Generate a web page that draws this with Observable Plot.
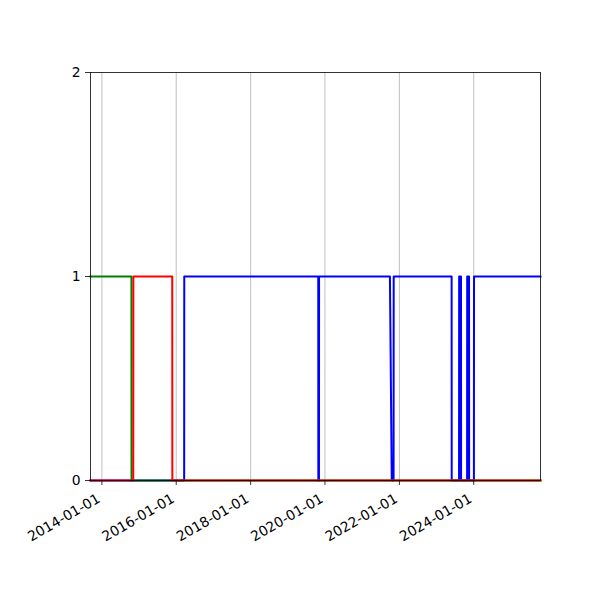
<!DOCTYPE html>
<html>
<head>
<meta charset="utf-8">
<script src="https://cdn.jsdelivr.net/npm/d3@7"></script>
<script src="https://cdn.jsdelivr.net/npm/@observablehq/plot@0.6"></script>
<style>
  html, body { margin: 0; padding: 0; background: #fff; }
  #chart { width: 600px; height: 600px; }
  svg { font-family: "DejaVu Sans", sans-serif; }
</style>
</head>
<body>
<div id="chart"></div>
<script>
// Domain (data extent)
const xStart = "2013-09-11";
const xEnd = "2025-10-18";

// Series: green
const greenDates = ["2013-09-11", "2014-10-18", "2014-10-19", "2025-10-18"];
const greenValues = [1, 1, 0, 0];

// Series: red
const redDates = ["2013-09-11", "2014-11-05", "2014-11-06", "2015-11-23", "2015-11-24", "2025-10-18"];
const redValues = [0, 0, 1, 1, 0, 0];

// Series: blue
const blueDates = [
  "2013-09-11", "2016-03-19", "2016-03-20",
  "2019-10-27", "2019-10-28", "2019-11-03", "2019-11-04",
  "2021-09-30", "2021-10-18", "2021-11-05", "2021-11-06",
  "2023-05-29", "2023-05-30",
  "2023-08-10", "2023-08-11", "2023-08-29", "2023-08-30",
  "2023-10-28", "2023-10-29", "2023-11-16", "2023-11-17",
  "2024-01-03", "2024-01-04", "2025-10-18"
];
const blueValues = [
  0, 0, 1,
  1, 0, 0, 1,
  1, 0, 0, 1,
  1, 0,
  0, 1, 1, 0,
  0, 1, 1, 0,
  0, 1, 1
];

// Tick labels
const xTickLabels = ["2014-01-01", "2016-01-01", "2018-01-01", "2020-01-01", "2022-01-01", "2024-01-01"];
const yTicks = [0, 1, 2];

const parse = d3.utcParse("%Y-%m-%d");
const rows = (dates, values) => dates.map((d, i) => ({date: parse(d), value: values[i]}));
const blue = rows(blueDates, blueValues);
const green = rows(greenDates, greenValues);
const red = rows(redDates, redValues);
const xTicks = xTickLabels.map(parse);

const lineOpts = {x: "date", y: "value", strokeWidth: 2, strokeLinejoin: "round", strokeLinecap: "square"};

const chart = Plot.plot({
  width: 600,
  height: 600,
  marginLeft: 90,
  marginRight: 60,
  marginTop: 72,
  marginBottom: 120,
  style: {fontFamily: "DejaVu Sans, sans-serif", fontSize: "13.9px", color: "black", background: "white"},
  x: {type: "utc", domain: [parse(xStart), parse(xEnd)]},
  y: {domain: [0, 2]},
  marks: [
    Plot.gridX(xTicks, {stroke: "#b0b0b0", strokeOpacity: 1, strokeWidth: 0.8}),
    Plot.line(blue, {...lineOpts, stroke: "blue"}),
    Plot.line(green, {...lineOpts, stroke: "green"}),
    Plot.line(red, {...lineOpts, stroke: "red"}),
    Plot.frame({stroke: "black", strokeWidth: 0.8}),
    Plot.axisX({ticks: xTicks, tickFormat: null, text: null, tickSize: 5, label: null, stroke: "black", strokeWidth: 0.8}),
    Plot.text(xTickLabels, {x: d => parse(d), frameAnchor: "bottom", text: d => d, rotate: -30, textAnchor: "end", lineAnchor: "middle", dx: -3, dy: 17, fontSize: 13.9, fill: "black"}),
    Plot.axisY({ticks: yTicks, tickFormat: d => String(d), tickSize: 5, tickPadding: 5, fontSize: 13.9, label: null, stroke: "black", strokeWidth: 0.8})
  ]
});
document.getElementById("chart").appendChild(chart);
</script>
</body>
</html>
